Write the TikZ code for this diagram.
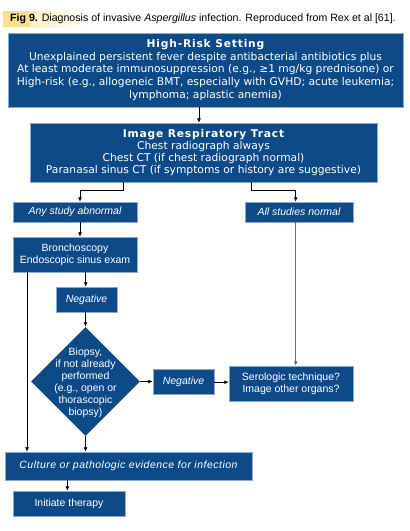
\documentclass[tikz,border=0pt]{standalone}
\usepackage{fontspec}
\setmainfont{Liberation Sans}
\newfontfamily\verd{DejaVu Sans}
\newfontfamily\verdsp[LetterSpace=7.5]{DejaVu Sans}
\newfontfamily\cultfont[LetterSpace=4.8]{Liberation Sans}
\usetikzlibrary{arrows.meta,shapes.geometric}
\definecolor{boxblue}{RGB}{13,74,135}
\definecolor{boxedge}{RGB}{140,170,205}
\definecolor{hl}{RGB}{250,224,140}
\definecolor{hlpale}{RGB}{252,240,195}
\definecolor{lightline}{RGB}{110,110,110}
\begin{document}
\begin{tikzpicture}[x=1pt,y=-1pt,
  box/.style={rectangle, fill=boxblue, draw=boxedge, line width=0.5pt, text=white,
    inner sep=0pt, align=center, font=\fontsize{10.5}{12}\selectfont},
  vbox/.style={box, font=\verd\fontsize{10.7}{12.7}\selectfont},
  diam/.style={diamond, fill=boxblue, draw=none, inner sep=0pt},
  arr/.style={draw=black, line width=0.8pt, -{Latex[length=4.5pt,width=4pt]}},
]
\useasboundingbox (0,0) rectangle (410,531);
% caption
\fill[hl] (3,11) rectangle (30,27);
\shade[left color=hlpale, right color=white] (30,11) rectangle (90,27);
\node[anchor=base west, inner sep=0pt, font=\fontsize{10.6}{12}\selectfont] (title) at (10,21.3)
  {\textbf{Fig 9.} Diagnosis of invasive \textit{Aspergillus} infection. Reproduced from Rex et al [61].};
% boxes
\node[vbox, minimum width=395pt, minimum height=74pt] (top) at (205.5,70)
  {{\verdsp\bfseries High-Risk Setting}\\
   Unexplained persistent fever despite antibacterial antibiotics plus\\
   At least moderate immunosuppression (e.g., ≥1 mg/kg prednisone) or\\
   High-risk (e.g., allogeneic BMT, especially with GVHD; acute leukemia;\\
   lymphoma; aplastic anemia)};
\node[vbox, font=\verd\fontsize{10.7}{11.8}\selectfont, minimum width=347pt, minimum height=59pt] (img) at (203.5,152.5)
  {{\verdsp\bfseries Image Respiratory Tract}\\
   Chest radiograph always\\
   Chest CT (if chest radiograph normal)\\
   Paranasal sinus CT (if symptoms or history are suggestive)};
\node[box, font=\itshape\fontsize{10.5}{12}\selectfont, minimum width=124pt, minimum height=20pt] (abn) at (75,212) {Any study abnormal};
\node[box, font=\itshape\fontsize{10.5}{12}\selectfont, minimum width=108pt, minimum height=20pt] (nor) at (299,212) {All studies normal};
\node[box, minimum width=124pt, minimum height=35pt] (bron) at (75,254.5) {Bronchoscopy\\Endoscopic sinus exam};
\node[box, font=\itshape\fontsize{10.5}{12}\selectfont, minimum width=61pt, minimum height=25pt] (neg1) at (86.5,299.5) {Negative};
\node[diam, minimum width=109pt, minimum height=109pt,
  label={[text=white, align=center, inner sep=0pt, yshift=-1.5pt, font=\fontsize{10.5}{12}\selectfont]center:{Biopsy,\\if not already\\performed\\(e.g., open or\\thorascopic\\biopsy)}}] (bio) at (85.5,381.5) {};
\node[box, font=\itshape\fontsize{10.5}{12}\selectfont, minimum width=61pt, minimum height=25pt] (neg2) at (183.5,382.2) {Negative};
\node[box, minimum width=124pt, minimum height=35pt] (sero) at (291,383.5) {Serologic technique?\\Image other organs?};
\node[box, font=\cultfont\itshape\fontsize{10.5}{12}\selectfont, minimum width=247pt, minimum height=28pt] (cult) at (128.5,466) {Culture or pathologic evidence for infection};
\node[box, minimum width=112pt, minimum height=25pt] (init) at (69,503.5) {Initiate therapy};
% connectors
\draw[arr] (top.south -| 199,0) -- (img.north -| 199,0);
\draw[arr] (img.south -| 123.3,0) -- ++(0,8.5) -| (abn.north -| 80,0);
\draw[arr] (img.south -| 251.7,0) -- ++(0,8.5) -| (nor.north -| 295.7,0);
\draw[arr] (abn.south -| 80,0) -- (bron.north -| 80,0);
\draw[arr] (bron.south -| 85.7,0) -- (neg1.north -| 85.7,0);
\draw[arr] (bron.south -| 27,0) -- (cult.north -| 27,0);
\draw[arr] (neg1.south -| bio.north) -- (bio.north);
\draw[arr] (bio.south) -- (cult.north -| bio.south);
\draw[arr] (bio.east) -- (neg2.west |- bio.east);
\draw[arr] (neg2.east) -- (sero.west |- neg2.east);
\draw[arr, draw=lightline] (nor.south -| 295.7,0) -- (sero.north -| 295.7,0);
\draw[arr] (cult.south -| 67.3,0) -- (init.north -| 67.3,0);
\end{tikzpicture}
\end{document}
